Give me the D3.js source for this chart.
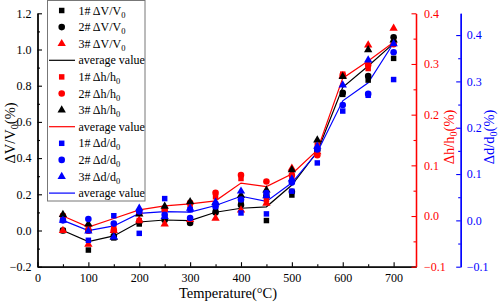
<!DOCTYPE html>
<html><head><meta charset="utf-8">
<script src="https://cdn.jsdelivr.net/npm/d3@7"></script>
<style>
html,body{margin:0;padding:0;background:#fff;}
svg{display:block;}
svg text{font-family:"Liberation Serif","Times New Roman","DejaVu Serif",serif !important;}
</style></head>
<body><svg id="c" width="498" height="304" font-family="Liberation Serif"></svg>
<script>
const temps = [50,100,150,200,250,300,350,400,450,500,550,600,650,700];
const dV1 = [0.0,-0.108,-0.041,0.036,0.069,0.052,0.108,0.150,0.055,0.196,0.428,0.752,0.831,0.951];
const dV2 = [0.0,0.0,-0.030,0.047,0.058,0.041,0.100,0.141,0.190,0.214,0.445,0.761,0.854,1.067];
const dV3 = [0.0,-0.076,0.0,0.058,0.036,0.060,0.067,0.113,0.150,0.343,0.434,0.854,1.025,1.117];
const dVavg = [0.0,-0.061,-0.030,0.047,0.058,0.055,0.101,0.123,0.131,0.251,0.435,0.791,0.909,1.034];
const dh1 = [0.0,-0.021,-0.024,-0.009,0.015,0.022,0.038,0.074,0.032,0.075,0.140,0.280,0.291,0.343];
const dh2 = [0.0,-0.029,-0.028,0.006,0.012,0.026,0.046,0.081,0.068,0.081,0.120,0.278,0.298,0.339];
const dh3 = [0.003,-0.016,-0.042,0.004,0.019,0.028,0.026,0.041,0.051,0.091,0.150,0.275,0.328,0.347];
const dhavg = [0.0,-0.022,-0.005,0.012,0.020,0.024,0.030,0.065,0.058,0.083,0.130,0.272,0.306,0.343];
const dd1 = [0.0,-0.043,0.010,-0.028,0.047,0.023,0.035,0.016,0.014,0.063,0.124,0.236,0.270,0.304];
const dd2 = [0.0,0.003,-0.007,0.019,0.012,0.005,0.030,0.045,0.059,0.082,0.153,0.249,0.273,0.363];
const dd3 = [0.0,-0.023,-0.036,0.026,0.008,0.026,0.039,0.063,0.053,0.089,0.160,0.292,0.346,0.381];
const ddavg = [0.0,-0.022,-0.012,0.015,0.019,0.018,0.032,0.052,0.041,0.081,0.147,0.258,0.297,0.383];
const xTicks = [0,100,200,300,400,500,600,700];
const leftTicks = [-0.2,0.0,0.2,0.4,0.6,0.8,1.0,1.2];
const redTicks = [-0.1,0.0,0.1,0.2,0.3,0.4];
const blueTicks = [-0.1,0.0,0.1,0.2,0.3,0.4];

const FONT = "Liberation Serif";
const svg = d3.select("#c");
const L = 37.5, R = 416, T = 13.3, B = 266.7;
const x = d3.scaleLinear([0,744],[L,R]);
const yL = d3.scaleLinear([-0.2,1.2],[B,T]);
const yR = d3.scaleLinear([-0.1,0.4],[B,T]);
const yB = d3.scaleLinear([-0.1,0.447],[B,T]);
const RED = "#ff0000", BLUE = "#0000ff", BLK = "#000";
const fmt = d3.format(".1f");

function styleAxis(g, color){
  g.attr("font-family",FONT).attr("font-size",12);
  g.selectAll("path.domain").attr("stroke",color).attr("stroke-width",1.3);
  g.selectAll(".tick line").attr("stroke",color).attr("stroke-width",1.1);
  g.selectAll(".tick text").attr("fill",color).attr("font-size",12).attr("font-family",FONT);
}
// bottom
let g = svg.append("g").attr("transform",`translate(0,${B})`)
  .call(d3.axisBottom(x).tickValues(d3.range(50,744,100)).tickSize(-2.5).tickSizeOuter(0).tickFormat(""));
styleAxis(g,BLK);
g = svg.append("g").attr("transform",`translate(0,${B})`)
  .call(d3.axisBottom(x).tickValues(xTicks).tickSize(-4.5).tickSizeOuter(0).tickPadding(7).tickFormat(d3.format("d")));
styleAxis(g,BLK);
// left
g = svg.append("g").attr("transform",`translate(${L},0)`)
  .call(d3.axisLeft(yL).tickValues(d3.range(-0.1,1.2,0.2)).tickSize(-2.5).tickSizeOuter(0).tickFormat(""));
styleAxis(g,BLK);
g = svg.append("g").attr("transform",`translate(${L},0)`)
  .call(d3.axisLeft(yL).tickValues(leftTicks).tickSize(-4.5).tickSizeOuter(0).tickPadding(6).tickFormat(fmt));
styleAxis(g,BLK);
// red right
g = svg.append("g").attr("transform",`translate(${R},0)`)
  .call(d3.axisRight(yR).tickValues(d3.range(-0.05,0.4,0.1)).tickSize(-2.5).tickSizeOuter(0).tickFormat(""));
styleAxis(g,RED);
g = svg.append("g").attr("transform",`translate(${R},0)`)
  .call(d3.axisRight(yR).tickValues(redTicks).tickSize(-4.5).tickSizeOuter(0).tickPadding(8).tickFormat(fmt));
styleAxis(g,RED);
// blue right
const BX = 460.7;
g = svg.append("g").attr("transform",`translate(${BX},0)`)
  .call(d3.axisRight(yB).tickValues(d3.range(-0.05,0.447,0.1)).tickSize(-2.5).tickSizeOuter(0).tickFormat(""));
styleAxis(g,BLUE);
g = svg.append("g").attr("transform",`translate(${BX},0)`)
  .call(d3.axisRight(yB).tickValues(blueTicks).tickSize(-4.5).tickSizeOuter(0).tickPadding(6).tickFormat(fmt));
styleAxis(g,BLUE);

// axis titles
function subText(sel, parts, size){
  parts.forEach(p=>{
    const t = sel.append("tspan").text(p.t);
    if(p.sub){ t.attr("font-size",size*0.7).attr("dy",size*0.22); }
    else if(p.after){ t.attr("dy",-size*0.22); }
  });
}
svg.append("text").attr("x",228).attr("y",298).attr("text-anchor","middle").attr("font-family",FONT)
  .attr("font-size",14.5).attr("fill",BLK).text("Temperature(°C)");
let tt = svg.append("text").attr("transform","translate(15,133) rotate(-90)").attr("text-anchor","middle")
  .attr("font-family",FONT).attr("font-size",14.5).attr("fill",BLK);
subText(tt,[{t:"ΔV/V"},{t:"0",sub:true},{t:"(%)",after:true}],14.5);
tt = svg.append("text").attr("transform","translate(454,137) rotate(-90)").attr("text-anchor","middle")
  .attr("font-family",FONT).attr("font-size",14.5).attr("fill",RED);
subText(tt,[{t:"Δh/h"},{t:"0",sub:true},{t:"(%)",after:true}],14.5);
tt = svg.append("text").attr("transform","translate(494,137) rotate(-90)").attr("text-anchor","middle")
  .attr("font-family",FONT).attr("font-size",14.5).attr("fill",BLUE);
subText(tt,[{t:"Δd/d"},{t:"0",sub:true},{t:"(%)",after:true}],14.5);

// series
const series = [
  {vals:dV1, y:yL, shape:"square", color:BLK, label:["1# ΔV/V","0"]},
  {vals:dV2, y:yL, shape:"circle", color:BLK, label:["2# ΔV/V","0"]},
  {vals:dV3, y:yL, shape:"triangle", color:RED, label:["3# ΔV/V","0"]},
  {vals:dVavg, y:yL, shape:"line", color:BLK, label:["average value",""]},
  {vals:dh1, y:yR, shape:"square", color:RED, label:["1# Δh/h","0"]},
  {vals:dh2, y:yR, shape:"circle", color:RED, label:["2# Δh/h","0"]},
  {vals:dh3, y:yR, shape:"triangle", color:BLK, label:["3# Δh/h","0"]},
  {vals:dhavg, y:yR, shape:"line", color:RED, label:["average value",""]},
  {vals:dd1, y:yB, shape:"square", color:BLUE, label:["1# Δd/d","0"]},
  {vals:dd2, y:yB, shape:"circle", color:BLUE, label:["2# Δd/d","0"]},
  {vals:dd3, y:yB, shape:"triangle", color:BLUE, label:["3# Δd/d","0"]},
  {vals:ddavg, y:yB, shape:"line", color:BLUE, label:["average value",""]},
];
const symMap = {square:d3.symbolSquare, circle:d3.symbolCircle, triangle:d3.symbolTriangle};
const symSize = {square:30, circle:34, triangle:30};
const plot = svg.append("g");
series.filter(s=>s.shape==="line").forEach(s=>{
  plot.append("path").datum(s.vals)
    .attr("d", d3.line().x((d,i)=>x(temps[i])).y(d=>s.y(d)))
    .attr("fill","none").attr("stroke",s.color).attr("stroke-width",1.2);
});
series.filter(s=>s.shape!=="line").forEach(s=>{
  plot.selectAll(null).data(s.vals).join("path")
    .attr("transform",(d,i)=>`translate(${x(temps[i])},${s.y(d)})`)
    .attr("d", d3.symbol(symMap[s.shape], symSize[s.shape]))
    .attr("fill",s.color);
});

// legend
const lg = svg.append("g").attr("font-family",FONT);
lg.append("rect").attr("x",47.5).attr("y",0.5).attr("width",97.5).attr("height",200.5)
  .attr("fill","#fff").attr("stroke","#777").attr("stroke-width",1);
series.forEach((s,i)=>{
  const cy = 10.5 + i*16.6;
  if(s.shape==="line"){
    lg.append("line").attr("x1",49).attr("x2",75).attr("y1",cy).attr("y2",cy)
      .attr("stroke",s.color).attr("stroke-width",1.2);
  } else {
    lg.append("path").attr("transform",`translate(61.7,${cy})`)
      .attr("d", d3.symbol(symMap[s.shape], symSize[s.shape])).attr("fill",s.color);
  }
  const t = lg.append("text").attr("x",78.5).attr("y",cy+4).attr("font-size",12).attr("font-family",FONT).attr("fill",BLK);
  t.append("tspan").text(s.label[0]);
  if(s.label[1]) t.append("tspan").text(s.label[1]).attr("font-size",8.5).attr("dy",3);
});
</script></body></html>
